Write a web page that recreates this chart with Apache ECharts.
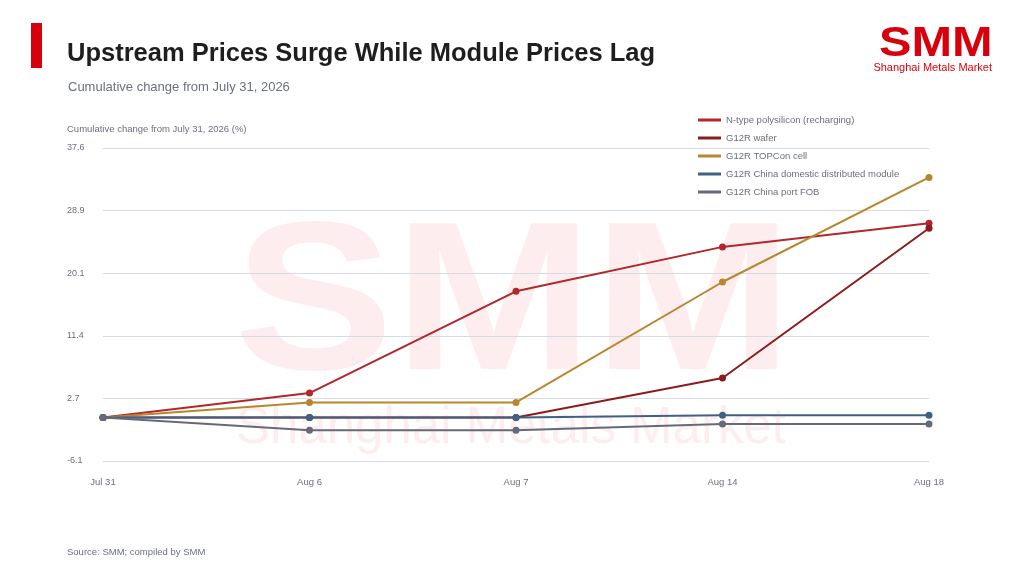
<!DOCTYPE html>
<html>
<head>
<meta charset="utf-8">
<script src="https://cdn.jsdelivr.net/npm/echarts@6/dist/echarts.min.js"></script>
<style>
  html, body { margin: 0; padding: 0; background: #fff; }
  #main { width: 1024px; height: 576px; }
</style>
</head>
<body>
<div id="main"></div>
<script>
// 日期轴
const dates = ['Jul 31', 'Aug 6', 'Aug 7', 'Aug 14', 'Aug 18']
// y轴刻度
const yTicks = ['-6.1', '2.7', '11.4', '20.1', '28.9', '37.6']
// 各系列累计变化 (%)
const polysilicon = [0, 3.4, 17.6, 23.8, 27.1]
const wafer = [0, 0, 0, 5.5, 26.4]
const topconCell = [0, 2.1, 2.1, 18.9, 33.5]
const domesticModule = [0, 0, 0, 0.3, 0.3]
const portFob = [0, -1.8, -1.8, -0.9, -0.9]
const seriesNames = [
    'N-type polysilicon (recharging)',
    'G12R wafer',
    'G12R TOPCon cell',
    'G12R China domestic distributed module',
    'G12R China port FOB'
]

const colorArr = ['#b3262b', '#8a1c1e', '#b8862f', '#3f6186', '#646a78']
const font = 'Arial, "Liberation Sans", Helvetica, sans-serif'

let chart = echarts.init(document.getElementById('main'))

const yMin = -6.08
const yMax = 37.6
const yStep = (yMax - yMin) / 5

function makeLine(name, data, color){
    return {
        name: name,
        type: 'line',
        data: data,
        symbol: 'circle',
        symbolSize: 7,
        z: 5,
        lineStyle: { color: color, width: 2 },
        itemStyle: { color: color }
    }
}

let option = {
    color: colorArr,
    textStyle: { fontFamily: font },
    animation: false,
    grid: { left: 103, right: 95, top: 148, bottom: 115 },
    legend: {
        orient: 'vertical',
        left: 693,
        top: 110,
        icon: 'rect',
        itemWidth: 23,
        itemHeight: 3,
        itemGap: 8,
        textStyle: { color: '#6b6f7a', fontSize: 9.5, fontFamily: font },
        data: seriesNames
    },
    graphic: [
        // 左侧红条
        { type: 'rect', left: 31, top: 23, shape: { width: 11, height: 45 }, style: { fill: '#d9000d' } },
        // 标题
        { type: 'text', left: 67, top: 41, style: { text: 'Upstream Prices Surge While Module Prices Lag', fill: '#1e1e1e', font: 'bold 25.5px ' + font } },
        { type: 'text', left: 68, top: 81, style: { text: 'Cumulative change from July 31, 2026', fill: '#6b7080', font: '13px ' + font } },
        { type: 'text', left: 67, top: 124, style: { text: 'Cumulative change from July 31, 2026 (%)', fill: '#6b7080', font: '9.5px ' + font } },
        // logo
        { type: 'text', x: 879, y: 23, scaleX: 1.16, style: { text: 'SMM', fill: '#d9000d', font: 'bold 42px ' + font, textVerticalAlign: 'top' } },
        { type: 'text', right: 32, top: 62, style: { text: 'Shanghai Metals Market', fill: '#d9000d', font: '11px ' + font } },
        // 水印
        { type: 'text', x: 234, y: 205, z: -1, scaleX: 1.13, style: { text: 'SMM', fill: 'rgba(225,0,20,0.07)', font: 'bold 212px ' + font, textVerticalAlign: 'top' } },
        { type: 'text', left: 236, top: 403, z: -1, style: { text: 'Shanghai Metals Market', fill: 'rgba(225,0,20,0.07)', font: '51px ' + font } },
        // 来源
        { type: 'text', left: 67, top: 547, style: { text: 'Source: SMM; compiled by SMM', fill: '#6b7080', font: '9.5px ' + font } }
    ],
    xAxis: {
        type: 'category',
        data: dates,
        boundaryGap: false,
        axisTick: { show: false },
        axisLine: { show: false },
        splitLine: { show: false },
        axisLabel: { color: '#6b7080', fontSize: 9.5, margin: 16 }
    },
    yAxis: {
        type: 'value',
        min: yMin,
        max: yMax,
        interval: yStep,
        axisTick: { show: false },
        axisLine: { show: false },
        splitLine: { show: true, lineStyle: { color: '#d5dae3', width: 1 } },
        axisLabel: {
            color: '#6b7080',
            fontSize: 9,
            align: 'left',
            margin: 36,
            formatter: function(v){
                let i = Math.round((v - yMin) / yStep)
                return yTicks[i]
            }
        }
    },
    series: [
        makeLine(seriesNames[0], polysilicon, colorArr[0]),
        makeLine(seriesNames[1], wafer, colorArr[1]),
        makeLine(seriesNames[2], topconCell, colorArr[2]),
        makeLine(seriesNames[3], domesticModule, colorArr[3]),
        makeLine(seriesNames[4], portFob, colorArr[4])
    ]
}

chart.setOption(option)
</script>
</body>
</html>
